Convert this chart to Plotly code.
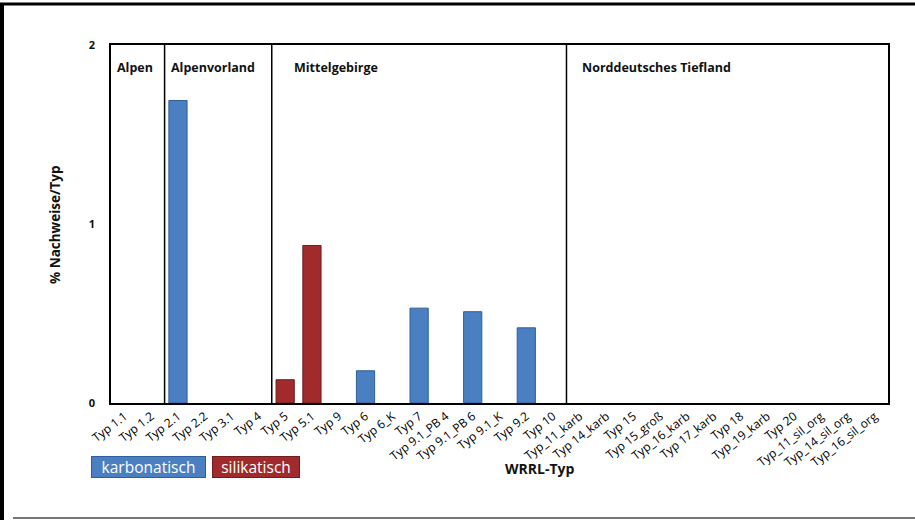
import plotly.graph_objects as go

categories = ["Typ 1.1", "Typ 1.2", "Typ 2.1", "Typ 2.2", "Typ 3.1", "Typ 4", "Typ 5", "Typ 5.1",
              "Typ 9", "Typ 6", "Typ 6_K", "Typ 7", "Typ 9.1_PB 4", "Typ 9.1_PB 6", "Typ 9.1_K",
              "Typ 9.2", "Typ 10", "Typ_11_karb", "Typ 14_karb", "Typ 15", "Typ 15_groß",
              "Typ_16_karb", "Typ 17_karb", "Typ 18", "Typ_19_karb", "Typ 20", "Typ_11_sil_org",
              "Typ_14_sil_org", "Typ_16_sil_org"]

karbonatisch = [None, None, 1.69, None, None, None, None, None,
                None, 0.18, None, 0.53, None, 0.51, None,
                0.42, None, None, None, None, None,
                None, None, None, None, None, None, None, None]
silikatisch = [None, None, None, None, None, None, 0.13, 0.88,
               None, None, None, None, None, None, None,
               None, None, None, None, None, None,
               None, None, None, None, None, None, None, None]

regions = ["Alpen", "Alpenvorland", "Mittelgebirge", "Norddeutsches Tiefland"]
region_start = ["Typ 1.1", "Typ 2.1", "Typ 5", "Typ_11_karb"]
y_ticks = [0, 1, 2]

blue = "#4a7fc1"
red = "#a02a2c"
font = "Open Sans"

W, H = 915, 520
L, R, T, B = 111, 27, 45, 117
PW, PH = W - L - R, H - T - B


def px(x):
    return (x - L) / PW


def py(y):
    return (H - B - y) / PH


fig = go.Figure()
fig.add_trace(go.Bar(x=categories, y=karbonatisch, name="karbonatisch",
                     marker=dict(color=blue, line=dict(color="#2f5f98", width=1)),
                     width=0.68, showlegend=False))
fig.add_trace(go.Bar(x=categories, y=silikatisch, name="silikatisch",
                     marker=dict(color=red, line=dict(color="#6e1c1e", width=1)),
                     width=0.68, showlegend=False))

shapes = []
for name in region_start[1:]:
    idx = categories.index(name) - 0.5
    shapes.append(dict(type="line", xref="x", yref="y", x0=idx, x1=idx, y0=0, y1=2,
                       line=dict(color="black", width=1.5)))
# outer frame lines of the image
shapes.append(dict(type="line", xref="paper", yref="paper", x0=px(0), x1=px(915),
                   y0=py(4), y1=py(4), line=dict(color="black", width=3)))
shapes.append(dict(type="line", xref="paper", yref="paper", x0=px(2), x1=px(2),
                   y0=py(520), y1=py(4), line=dict(color="black", width=4)))
shapes.append(dict(type="line", xref="paper", yref="paper", x0=px(13), x1=px(915),
                   y0=py(518), y1=py(518), line=dict(color="#777", width=2)))

shifts = {"Alpen": 4, "Alpenvorland": 4, "Mittelgebirge": 20, "Norddeutsches Tiefland": 14}
annotations = []
for name, start in zip(regions, region_start):
    idx = categories.index(start) - 0.5
    annotations.append(dict(x=idx, y=1.877, xref="x", yref="y", text="<b>" + name + "</b>",
                            showarrow=False, xanchor="left", yanchor="middle",
                            xshift=shifts[name],
                            font=dict(family=font, size=12.5, color="#111")))

annotations.append(dict(x=px(540), y=py(468), xref="paper", yref="paper", text="<b>WRRL-Typ</b>",
                        showarrow=False, xanchor="center", yanchor="middle",
                        font=dict(family=font, size=14, color="#111")))
annotations.append(dict(x=px(55), y=py(225), xref="paper", yref="paper", text="<b>% Nachweise/Typ</b>",
                        textangle=-90, showarrow=False, xanchor="center", yanchor="middle",
                        font=dict(family=font, size=13.5, color="#111")))
# legend boxes
annotations.append(dict(x=px(91), y=py(467), xref="paper", yref="paper",
                        text="karbonatisch", showarrow=False, xanchor="left", yanchor="middle",
                        bgcolor=blue, bordercolor="#2f5f98", borderwidth=1, borderpad=1,
                        width=111, height=18, font=dict(family=font, size=15.5, color="white")))
annotations.append(dict(x=px(212), y=py(467), xref="paper", yref="paper",
                        text="silikatisch", showarrow=False, xanchor="left", yanchor="middle",
                        bgcolor=red, bordercolor="#6e1c1e", borderwidth=1, borderpad=1,
                        width=84, height=18, font=dict(family=font, size=15.5, color="white")))

fig.update_layout(
    width=W, height=H,
    margin=dict(l=L, r=R, t=T, b=B),
    paper_bgcolor="white", plot_bgcolor="white",
    barmode="overlay",
    shapes=shapes, annotations=annotations,
    font=dict(family=font, color="#111"),
)
fig.update_xaxes(type="category", categoryorder="array", categoryarray=categories,
                 tickangle=-38, tickfont=dict(family=font, size=12, color="#000"),
                 showline=True, mirror=True, linecolor="black", linewidth=1.5,
                 ticks="", showgrid=False, range=[-0.5, len(categories) - 0.5])
fig.update_yaxes(range=[0, 2], tickvals=y_ticks, ticktext=["<b>%d</b>" % v for v in y_ticks],
                 tickfont=dict(family=font, size=11, color="#111"),
                 showline=True, mirror=True, linecolor="black", linewidth=1.5,
                 showgrid=False, zeroline=False, ticks="", ticklabelstandoff=12)

fig.write_html("out.html", config={"displayModeBar": False},
               post_script="document.body.style.margin='0';document.body.style.overflow='hidden';")
